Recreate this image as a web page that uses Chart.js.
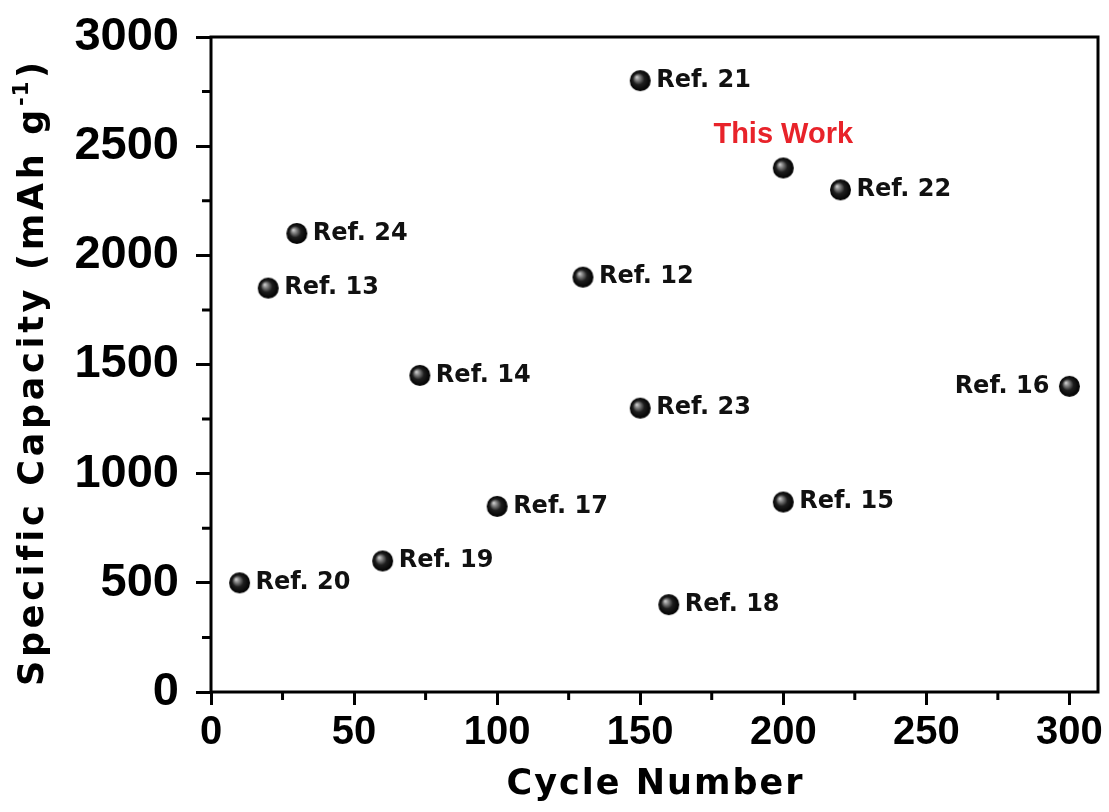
<!DOCTYPE html>
<html>
<head>
<meta charset="utf-8">
<script src="https://cdn.jsdelivr.net/npm/chart.js@4"></script>
<style>
  html, body { margin: 0; padding: 0; background: #fff; }
  #wrap { width: 1109px; height: 812px; }
</style>
</head>
<body>
<div id="wrap"><canvas id="capChart" width="1109" height="812"></canvas></div>
<script>
// Specific capacity vs cycle number, literature comparison

const refNames = ['Ref. 20', 'Ref. 19', 'Ref. 17', 'Ref. 18', 'Ref. 15', 'Ref. 23', 'Ref. 14',
  'Ref. 16', 'Ref. 13', 'Ref. 24', 'Ref. 12', 'Ref. 21', 'This Work', 'Ref. 22'];
const cycles = [10, 60, 100, 160, 200, 150, 73, 300, 20, 30, 130, 150, 200, 220];
const capacities = [500, 600, 850, 400, 870, 1300, 1450, 1400, 1850, 2100, 1900, 2800, 2400, 2300];

const xTicks = [0, 50, 100, 150, 200, 250, 300];
const yTicks = [0, 500, 1000, 1500, 2000, 2500, 3000];
const xMinor = [25, 75, 125, 175, 225, 275];
const yMinor = [250, 750, 1250, 1750, 2250, 2750];

// where a label sits relative to its marker (default: right)
const labelPlace = { 'Ref. 16': 'left', 'This Work': 'above' };

function sphereImage(r){
  // small shaded black ball used as the point style
  const c = document.createElement('canvas');
  c.width = c.height = r * 2 + 2;
  const g = c.getContext('2d');
  const cx = r + 1, cy = r + 1;
  const grad = g.createRadialGradient(cx - r*0.35, cy - r*0.35, 0, cx, cy, r);
  grad.addColorStop(0, '#d8d8d8');
  grad.addColorStop(0.22, '#8a8a8a');
  grad.addColorStop(0.55, '#1e1e1e');
  grad.addColorStop(1, '#000');
  g.fillStyle = grad;
  g.beginPath();
  g.arc(cx, cy, r, 0, Math.PI * 2);
  g.fill();
  return c;
}

const ball = sphereImage(10.5);

const frameAndTicks = {
  id: 'frameAndTicks',
  beforeDatasetsDraw(chart){
    const {ctx, chartArea: a, scales} = chart;
    ctx.save();
    ctx.strokeStyle = '#000';
    ctx.lineWidth = 3;
    ctx.strokeRect(a.left, a.top, a.right - a.left, a.bottom - a.top);
    ctx.beginPath();
    for (const v of xMinor){
      const x = scales.x.getPixelForValue(v);
      ctx.moveTo(x, a.bottom);
      ctx.lineTo(x, a.bottom + 8);
    }
    for (const v of yMinor){
      const y = scales.y.getPixelForValue(v);
      ctx.moveTo(a.left, y);
      ctx.lineTo(a.left - 9, y);
    }
    ctx.stroke();
    ctx.restore();
  }
};

function spacedText(ctx, text, x, y, spacing){
  // draws text char by char so letter spacing works everywhere
  let cx = x;
  for (const ch of text){
    ctx.fillText(ch, cx, y);
    cx += ctx.measureText(ch).width + spacing;
  }
  return cx - x - spacing;
}
function spacedWidth(ctx, text, spacing){
  let w = 0;
  for (const ch of text) w += ctx.measureText(ch).width + spacing;
  return w - spacing;
}

const textLayer = {
  id: 'textLayer',
  afterDatasetsDraw(chart){
    const {ctx, chartArea: a} = chart;
    const meta = chart.getDatasetMeta(0);
    ctx.save();
    ctx.textBaseline = 'middle';
    meta.data.forEach((pt, i) => {
      const name = refNames[i];
      const place = labelPlace[name] || 'right';
      if (place === 'above'){
        ctx.font = 'bold 29px "Liberation Sans", Arial, sans-serif';
        ctx.fillStyle = '#e8232a';
        ctx.textAlign = 'center';
        ctx.fillText(name, pt.x, pt.y - 33);
      } else {
        ctx.font = 'bold 24px "DejaVu Sans", sans-serif';
        ctx.fillStyle = '#111';
        if (place === 'left'){
          ctx.textAlign = 'right';
          ctx.fillText(name, pt.x - 20, pt.y);
        } else {
          ctx.textAlign = 'left';
          ctx.fillText(name, pt.x + 16, pt.y);
        }
      }
    });

    // axis titles
    ctx.fillStyle = '#000';
    ctx.textAlign = 'left';
    ctx.textBaseline = 'alphabetic';
    ctx.font = 'bold 35px "DejaVu Sans", sans-serif';
    const xt = 'Cycle Number';
    const xw = spacedWidth(ctx, xt, 2);
    spacedText(ctx, xt, (a.left + a.right) / 2 - xw / 2, 794, 2);

    ctx.translate(43, 374);
    ctx.rotate(-Math.PI / 2);
    const big = 'bold 35px "DejaVu Sans", sans-serif';
    const small = 'bold 21px "DejaVu Sans", sans-serif';
    const sp = 3.7;
    ctx.font = big;
    let w1 = spacedWidth(ctx, 'Specific Capacity (mAh g', sp);
    let w3 = spacedWidth(ctx, ')', sp);
    ctx.font = small;
    let w2 = spacedWidth(ctx, '-1', 1);
    const total = w1 + sp + w2 + sp + w3;
    let x0 = -total / 2;
    ctx.font = big;
    spacedText(ctx, 'Specific Capacity (mAh g', x0, 0, sp);
    x0 += w1 + sp;
    ctx.font = small;
    spacedText(ctx, '-1', x0, -15, 1);
    x0 += w2 + sp;
    ctx.font = big;
    spacedText(ctx, ')', x0, 0, sp);
    ctx.restore();
  }
};

const points = cycles.map((c, i) => ({ x: c, y: capacities[i] }));

new Chart(document.getElementById('capChart'), {
  type: 'scatter',
  data: {
    datasets: [{
      data: points,
      pointStyle: ball,
      pointRadius: 10,
    }]
  },
  options: {
    responsive: false,
    devicePixelRatio: 1,
    animation: false,
    layout: { padding: { top: 37, right: 10, left: 0, bottom: 0 } },
    plugins: { legend: { display: false }, tooltip: { enabled: false } },
    scales: {
      x: {
        type: 'linear',
        min: 0,
        max: 310,
        afterBuildTicks: s => { s.ticks = xTicks.map(v => ({ value: v })); },
        afterFit: s => { s.height = 120; s.paddingLeft = 0; s.paddingRight = 0; },
        border: { display: false },
        grid: { drawOnChartArea: false, drawTicks: true, tickLength: 13, tickWidth: 3, tickColor: '#000' },
        ticks: {
          color: '#000',
          padding: 4,
          maxRotation: 0,
          callback: v => String(v),
          font: { family: '"Liberation Sans", Arial, sans-serif', size: 40, weight: 'bold' }
        }
      },
      y: {
        min: 0,
        max: 3000,
        afterBuildTicks: s => { s.ticks = yTicks.map(v => ({ value: v })); },
        afterFit: s => { s.width = 211; s.paddingTop = 0; s.paddingBottom = 0; },
        border: { display: false },
        grid: { drawOnChartArea: false, drawTicks: true, tickLength: 15, tickWidth: 3, tickColor: '#000' },
        ticks: {
          color: '#000',
          padding: 17,
          callback: v => String(v),
          font: { family: '"Liberation Sans", Arial, sans-serif', size: 47, weight: 'bold' }
        }
      }
    }
  },
  plugins: [frameAndTicks, textLayer]
});
</script>
</body>
</html>
